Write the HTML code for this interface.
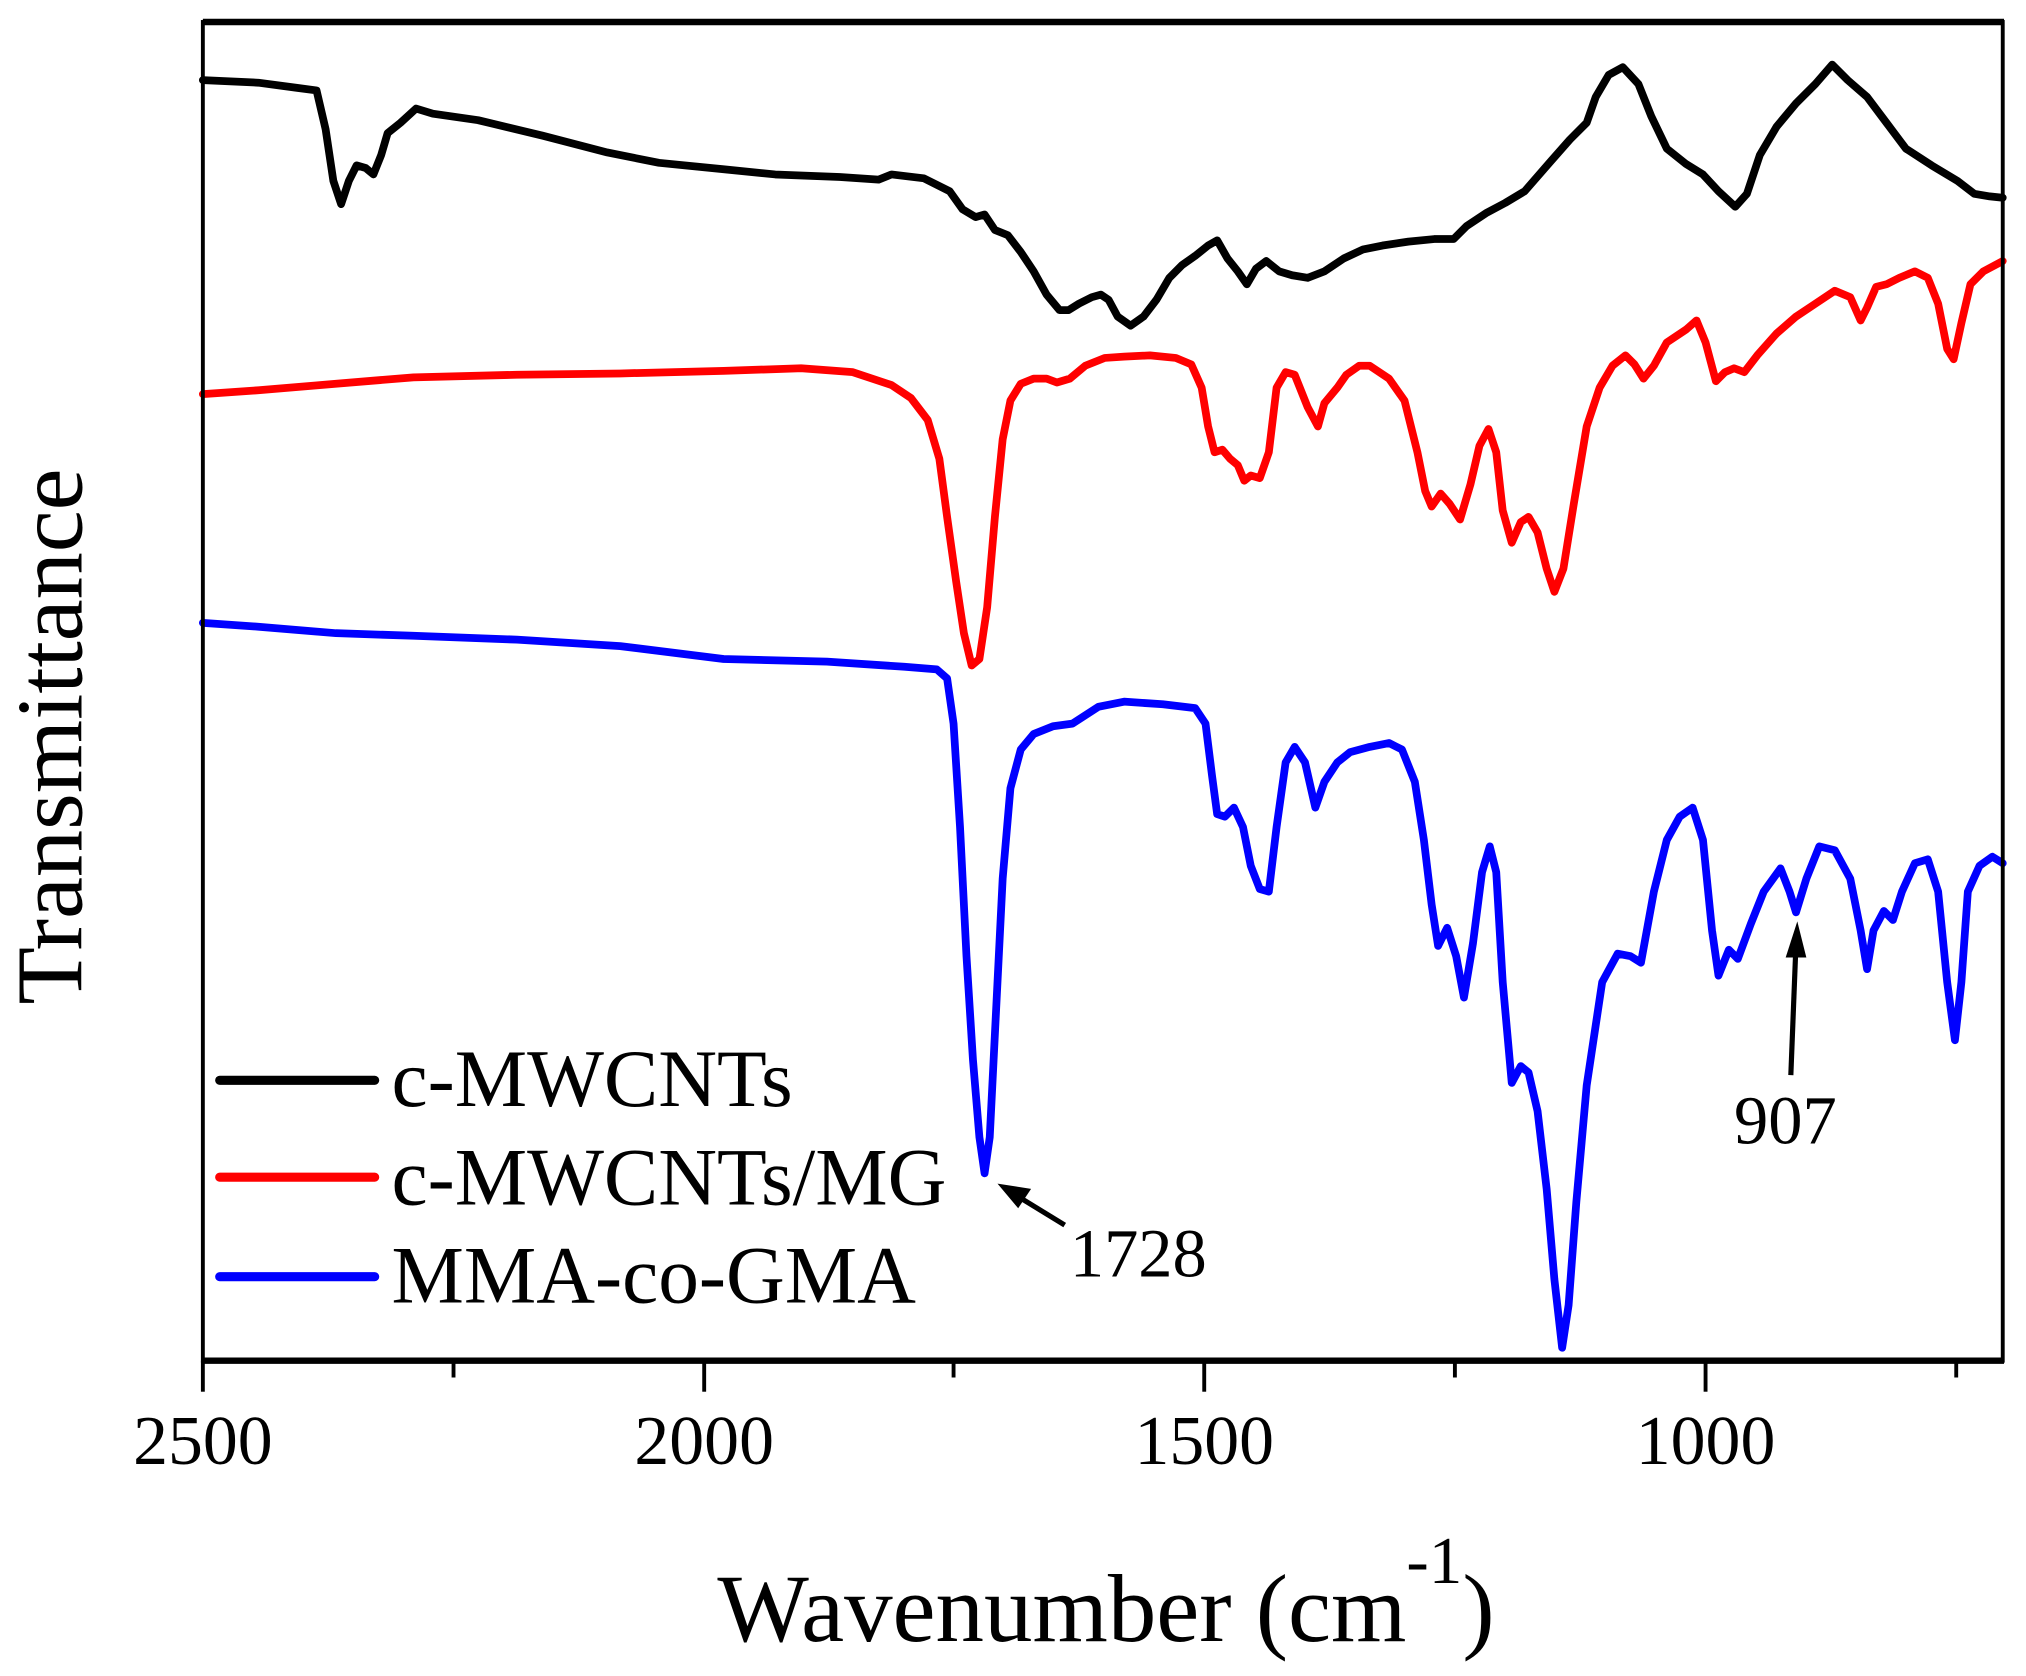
<!DOCTYPE html>
<html><head><meta charset="utf-8"><style>
html,body{margin:0;padding:0;background:#fff;width:2026px;height:1676px;overflow:hidden}
svg{display:block}
text{font-family:"Liberation Serif",serif;fill:#000}
</style></head><body>
<svg width="2026" height="1676" viewBox="0 0 1568 1297" preserveAspectRatio="none" xmlns="http://www.w3.org/2000/svg">
<g fill="none" stroke-linejoin="round" stroke-linecap="round">
<polyline stroke="#000" stroke-width="6" points="157,62 200,64 230,68 245,70 252,100 258,140 264,158 270,140 276,128 283,130 289,135 295,120 300,103 310,95 322,84 335,88 370,93 420,105 470,118 510,126 560,131 600,135 650,137 680,139 690,135 715,138 735,148 745,162 755,168 762,166 770,178 780,182 790,195 800,210 810,228 820,240 827,240 835,235 845,230 852,228 858,232 865,245 875,252 885,245 895,232 905,215 915,205 925,198 935,190 942,186 950,200 958,210 965,220 972,208 980,202 990,210 1000,213 1012,215 1025,210 1040,200 1055,193 1070,190 1090,187 1110,185 1125,185 1135,175 1150,165 1165,157 1180,148 1200,125 1215,108 1228,95 1235,75 1245,58 1256,52 1268,65 1278,90 1290,115 1305,127 1318,135 1330,148 1343,160 1352,150 1362,120 1375,98 1390,80 1405,65 1418,50 1430,62 1445,75 1460,95 1475,115 1495,128 1515,140 1528,150 1540,152 1550,153"/>
<polyline stroke="#f00" stroke-width="6" points="157,305 200,302 260,297 320,292 400,290 480,289 560,287 620,285 660,288 690,298 705,308 718,325 727,355 733,400 740,450 746,490 752,515 758,510 764,470 770,400 776,340 782,310 790,297 800,293 810,293 818,296 828,293 840,283 855,277 870,276 890,275 910,277 922,282 930,300 935,330 940,350 946,348 952,355 958,360 963,372 968,368 975,370 982,350 988,300 995,288 1002,290 1012,315 1020,330 1025,312 1035,300 1042,290 1052,283 1060,283 1075,293 1087,310 1097,350 1103,380 1108,392 1115,382 1122,390 1130,402 1138,375 1145,345 1152,332 1158,350 1163,395 1170,420 1177,404 1183,400 1190,412 1197,440 1203,458 1210,440 1218,390 1228,330 1238,300 1248,283 1258,275 1265,282 1272,293 1280,283 1290,265 1305,255 1313,248 1320,265 1328,295 1335,288 1342,285 1350,288 1360,275 1375,258 1390,245 1405,235 1420,225 1432,230 1440,248 1445,238 1452,222 1460,220 1470,215 1482,210 1492,215 1500,235 1507,270 1512,278 1518,250 1525,220 1535,210 1550,202"/>
<polyline stroke="#00f" stroke-width="6" points="157,482 200,485 260,490 320,492 400,495 480,500 560,510 640,512 700,516 725,518 733,525 738,560 743,640 748,740 753,820 758,880 762,908 766,880 771,780 776,680 782,610 790,580 800,568 815,562 830,560 850,547 870,543 900,545 925,548 933,560 938,600 942,630 948,632 955,625 962,640 968,670 975,688 982,690 988,640 995,590 1002,578 1010,590 1018,625 1025,605 1035,590 1045,582 1060,578 1075,575 1085,580 1095,605 1102,650 1108,700 1113,732 1120,718 1127,740 1133,772 1140,730 1147,675 1153,655 1158,675 1163,760 1170,838 1177,825 1183,830 1190,860 1197,920 1203,990 1209,1043 1214,1010 1220,930 1228,840 1240,760 1252,738 1262,740 1270,745 1280,690 1290,650 1300,632 1310,625 1318,650 1325,720 1330,755 1338,735 1345,742 1355,715 1365,690 1378,672 1385,690 1390,706 1398,680 1408,655 1420,658 1432,680 1440,720 1445,750 1450,720 1458,705 1465,712 1472,690 1482,668 1492,665 1500,690 1507,760 1513,805 1518,760 1523,690 1532,670 1542,663 1550,668"/>
</g>
<rect x="157" y="17" width="1393" height="1036" fill="none" stroke="#000" stroke-width="3"/>
<line x1="157" y1="17" x2="1551" y2="17" stroke="#000" stroke-width="5"/>
<line x1="157" y1="1053" x2="1551" y2="1053" stroke="#000" stroke-width="5"/>
<g stroke="#000" stroke-width="3">
<line x1="157" y1="1053" x2="157" y2="1077"/><line x1="545" y1="1053" x2="545" y2="1077"/><line x1="932" y1="1053" x2="932" y2="1077"/><line x1="1320" y1="1053" x2="1320" y2="1077"/>
<line x1="351" y1="1053" x2="351" y2="1066"/><line x1="738" y1="1053" x2="738" y2="1066"/><line x1="1126" y1="1053" x2="1126" y2="1066"/><line x1="1514" y1="1053" x2="1514" y2="1066"/>
</g>
<g font-size="54" text-anchor="middle">
<text x="157" y="1133">2500</text><text x="545" y="1133">2000</text><text x="932" y="1133">1500</text><text x="1320" y="1133">1000</text>
</g>
<text x="856" y="1270" font-size="75" text-anchor="middle">Wavenumber (cm<tspan font-size="52" dy="-45">-1</tspan><tspan dy="45">)</tspan></text>
<text transform="translate(63,570) rotate(-90)" font-size="73" text-anchor="middle">Transmittance</text>
<g stroke-width="7" stroke-linecap="round">
<line x1="170" y1="836" x2="290" y2="836" stroke="#000"/>
<line x1="170" y1="911" x2="290" y2="911" stroke="#f00"/>
<line x1="170" y1="988" x2="290" y2="988" stroke="#00f"/>
</g>
<g font-size="63">
<text x="303" y="856">c-MWCNTs</text>
<text x="303" y="932">c-MWCNTs/MG</text>
<text x="303" y="1008">MMA-co-GMA</text>
</g>
<line x1="824" y1="948" x2="788" y2="926" stroke="#000" stroke-width="4"/>
<polygon points="772,916 798,920 788,935" fill="#000"/>
<text x="828" y="988" font-size="53">1728</text>
<line x1="1386" y1="832" x2="1390" y2="730" stroke="#000" stroke-width="4"/>
<polygon points="1391,713 1382,741 1398,741" fill="#000"/>
<text x="1342" y="885" font-size="53">907</text>
</svg>
</body></html>
